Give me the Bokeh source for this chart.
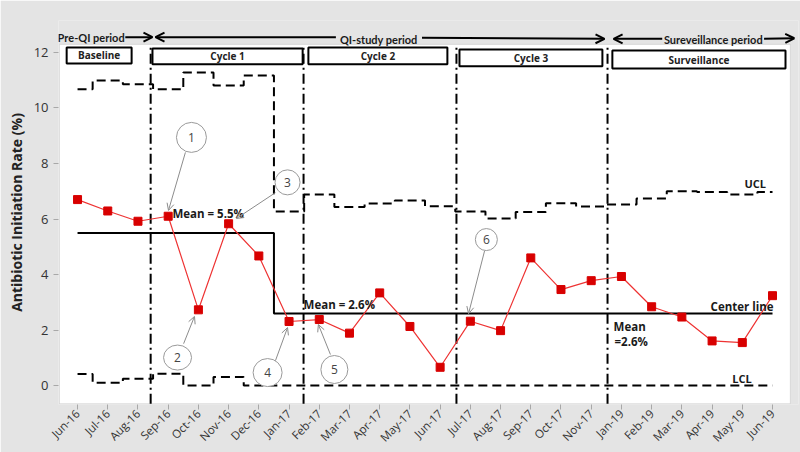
from bokeh.plotting import figure
from bokeh.models import Label, Arrow, OpenHead, FixedTicker, BoxAnnotation
from bokeh.core.properties import value
from bokeh.embed import file_html
from bokeh.resources import INLINE

# ---------------- data ----------------
months = ["Jun-16", "Jul-16", "Aug-16", "Sep-16", "Oct-16", "Nov-16", "Dec-16",
          "Jan-17", "Feb-17", "Mar-17", "Apr-17", "May-17", "Jun-17", "Jul-17",
          "Aug-17", "Sep-17", "Oct-17", "Nov-17", "Jan-19", "Feb-19", "Mar-19",
          "Apr-19", "May-19", "Jun-19"]
rate = [6.70, 6.29, 5.92, 6.10, 2.73, 5.83, 4.67, 2.31, 2.38, 1.89, 3.34, 2.13,
        0.66, 2.32, 1.98, 4.60, 3.46, 3.78, 3.93, 2.84, 2.47, 1.61, 1.55, 3.24]
ucl = [10.67, 10.99, 10.85, 10.67, 11.28, 10.81, 11.17, 6.27, 6.88, 6.43, 6.56, 6.67,
       6.46, 6.27, 6.02, 6.25, 6.57, 6.45, 6.52, 6.74, 7.00, 6.97, 6.88, 6.97]
lcl = [0.42, 0.10, 0.25, 0.43, 0.00, 0.31, 0.00, 0.00, 0.00, 0.00, 0.00, 0.00,
       0.00, 0.00, 0.00, 0.00, 0.00, 0.00, 0.00, 0.00, 0.00, 0.00, 0.00, 0.00]
mean_before = 5.5
mean_after = 2.6
phase_change_index = 6.5
period_boundaries = [2.42, 7.48, 12.54, 17.54]
phase_names = ["Baseline", "Cycle 1", "Cycle 2", "Cycle 3", "Surveillance"]
y_ticks = [0, 2, 4, 6, 8, 10, 12]

x = list(range(len(months)))

FONT = "Open Sans"
NARROW = "Lato"
BG = "#e4e4e4"
FRAME = "#a8a8a8"

# visible plot box (in data units); the bokeh frame is larger so that
# the period arrows above the box are drawn too
PX0, PX1, PY0, PY1 = -0.6, 23.59, -0.65, 12.29

p = figure(width=800, height=452, output_backend="svg", toolbar_location=None,
           x_range=(-0.63, 23.86), y_range=(-0.68, 13.15),
           min_border_left=58, min_border_right=2, min_border_top=20,
           min_border_bottom=48)
p.background_fill_color = BG
p.border_fill_color = BG
p.outline_line_color = None
p.xgrid.visible = False
p.ygrid.visible = False

p.add_layout(BoxAnnotation(left=PX0, right=PX1, bottom=PY0, top=PY1,
                           fill_color="white", fill_alpha=1.0,
                           line_color=FRAME, line_width=1, level="underlay"))

# axes
p.xaxis.ticker = FixedTicker(ticks=x)
p.xaxis.major_label_overrides = {i: m for i, m in enumerate(months)}
p.xaxis.major_label_orientation = 0.785
p.xaxis.major_label_text_font = FONT
p.xaxis.major_label_text_font_size = "11.5px"
p.xaxis.major_label_text_color = "#333333"
p.xaxis.major_label_standoff = 2
p.yaxis.ticker = FixedTicker(ticks=y_ticks)
p.yaxis.major_label_text_font = FONT
p.yaxis.major_label_text_font_size = "13px"
p.yaxis.major_label_text_color = "#333333"
p.yaxis.axis_label = "Antibiotic Initiation Rate (%)"
p.yaxis.axis_label_text_font = FONT
p.yaxis.axis_label_text_font_size = "14px"
p.yaxis.axis_label_text_font_style = "bold"
p.yaxis.axis_label_text_color = "#222222"
for ax in (p.xaxis, p.yaxis):
    ax.axis_line_color = None
    ax.major_tick_line_color = FRAME
    ax.major_tick_out = 5
    ax.major_tick_in = 0
    ax.minor_tick_line_color = None

# period boundaries
p.segment(x0=period_boundaries, x1=period_boundaries,
          y0=[PY0] * len(period_boundaries), y1=[PY1] * len(period_boundaries),
          line_color="black", line_width=2, line_dash="10 4 2 4")

# control limits
p.step(x, ucl, mode="center", line_color="black", line_width=2, line_dash="9 5")
p.step(x, lcl, mode="center", line_color="black", line_width=2, line_dash="9 5")

# center line (means)
p.line([x[0], phase_change_index, phase_change_index, x[-1]],
       [mean_before, mean_before, mean_after, mean_after],
       line_color="black", line_width=2)

# data series
p.line(x, rate, line_color="#ee3333", line_width=1.2)
p.scatter(x, rate, marker="square", size=8, fill_color="#d80000", line_color="#d80000")

# phase boxes at top of the plot
box_left = [-0.36, 2.48, 7.64, 12.64, 17.70]
box_right = [1.79, 7.45, 12.24, 17.37, 23.43]
box_top = [12.18, 12.14, 12.18, 12.11, 12.07]
box_bottom = [11.60, 11.57, 11.57, 11.50, 11.42]
p.quad(left=box_left, right=box_right, top=box_top, bottom=box_bottom,
       fill_color="white", line_color="black", line_width=2)
p.text(x=[(l + r) / 2 for l, r in zip(box_left, box_right)],
       y=[(t + b) / 2 for t, b in zip(box_top, box_bottom)],
       text=phase_names, text_align="center", text_baseline="middle",
       text_font=value(FONT), text_font_size="10px", text_font_style="bold",
       text_color="#222222")

# period arrows above the plot box (gaps left for the period labels)
def big_arrow(x0, y0, x1, y1):
    p.add_layout(Arrow(end=OpenHead(size=9, line_color="black", line_width=2),
                       x_start=x0, y_start=y0, x_end=x1, y_end=y1,
                       line_color="black", line_width=2))

big_arrow(1.58, 12.55, 2.48, 12.55)
big_arrow(8.55, 12.55, 2.58, 12.55)
big_arrow(11.40, 12.53, 17.44, 12.49)
big_arrow(19.35, 12.49, 17.74, 12.49)
big_arrow(22.72, 12.49, 23.72, 12.51)

def lab(xv, yv, t, size="10.5px", align="left", baseline="middle", font=FONT):
    p.add_layout(Label(x=xv, y=yv, text=t, text_font=font, text_font_size=size,
                       text_font_style="bold", text_color="#1a1a1a",
                       text_align=align, text_baseline=baseline))

lab(0.45, 12.52, "Pre-QI period", size="11px", align="center", font=NARROW)
lab(9.97, 12.48, "QI-study period", size="11px", align="center", font=NARROW)
lab(21.04, 12.45, "Sureveillance period", size="11px", align="center", font=NARROW)

# in-plot labels
lab(3.14, 6.19, "Mean = 5.5%", size="11.5px")
lab(7.48, 2.92, "Mean = 2.6%", size="11.5px")
lab(20.95, 2.85, "Center line", size="11.5px")
lab(17.74, 2.13, "Mean", size="11.5px")
lab(17.77, 1.59, "=2.6%", size="11.5px")
lab(22.07, 7.28, "UCL", size="11px")
lab(21.67, 0.25, "LCL", size="11px")

# numbered callouts
call_x = [3.77, 3.31, 6.95, 6.29, 8.50, 13.53]
call_y = [8.94, 1.01, 7.32, 0.47, 0.58, 5.26]
call_w = [30, 28, 25, 29, 27, 22]
call_h = [30, 25, 25, 28, 28, 22]
call_t = ["1", "2", "3", "4", "5", "6"]
arr_x0 = [3.57, 3.51, 6.55, 6.55, 8.37, 13.47]
arr_y0 = [8.40, 1.51, 6.95, 0.90, 1.12, 4.85]
arr_x1 = [3.01, 3.87, 5.26, 6.95, 7.97, 12.94]
arr_y1 = [6.31, 2.49, 6.02, 2.09, 2.20, 2.59]
for a, b, c, d in zip(arr_x0, arr_y0, arr_x1, arr_y1):
    p.add_layout(Arrow(end=OpenHead(size=7, line_color="#8c8c8c", line_width=1),
                       x_start=a, y_start=b, x_end=c, y_end=d,
                       line_color="#8c8c8c", line_width=1))
p.ellipse(x=call_x, y=call_y, width=call_w, height=call_h,
          width_units="screen", height_units="screen",
          fill_color="white", line_color="#9a9a9a", line_width=1)
p.text(x=call_x, y=call_y, text=call_t, text_align="center", text_baseline="middle",
       text_font=value(FONT), text_font_size="12px", text_color="#444444")

open("out.html", "w").write(file_html(p, INLINE))
